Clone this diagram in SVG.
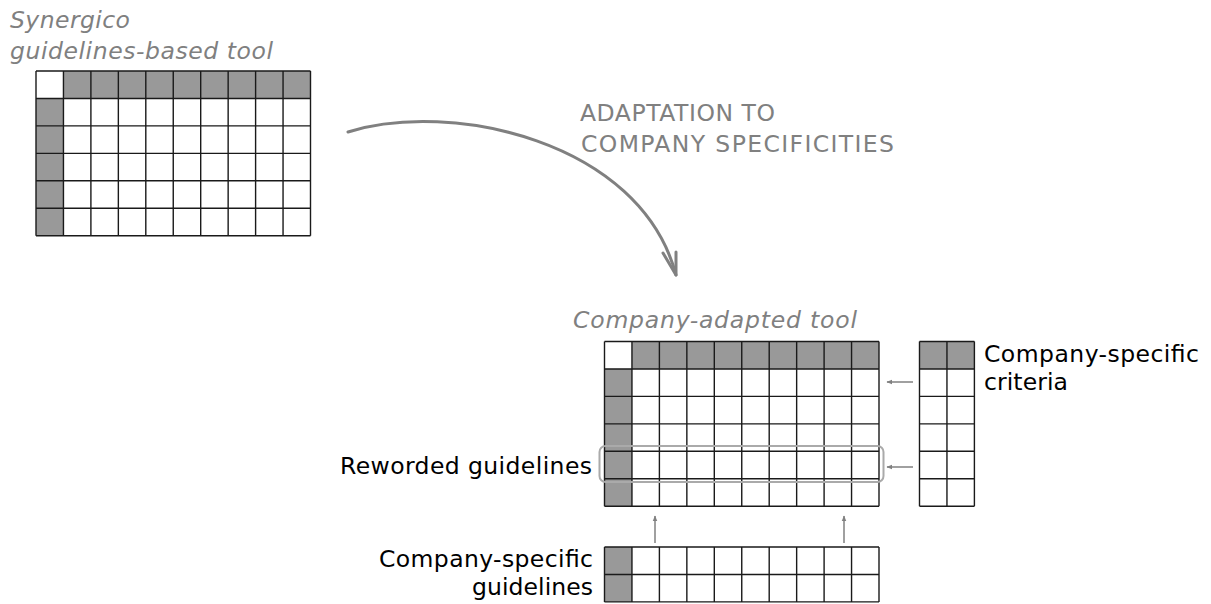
<svg xmlns="http://www.w3.org/2000/svg" width="1211" height="604" viewBox="0 0 1211 604">
<style>
.bg{fill:#fff}
.hd{fill:#999}
.gl{fill:none;stroke:#1a1a1a;stroke-width:1.4}
.ti{font-family:"DejaVu Sans",sans-serif;font-style:italic;font-size:23.5px;fill:#808080}
.tg{font-family:"DejaVu Sans",sans-serif;font-size:23.5px;fill:#808080}
.tb{font-family:"DejaVu Sans",sans-serif;font-size:23.5px;fill:#000}
.sa{stroke:#808080;stroke-width:1.5;fill:none;marker-end:url(#ah)}
</style>
<defs>
<marker id="ah" viewBox="0 0 10 10" refX="9" refY="5" markerWidth="6" markerHeight="6" markerUnits="userSpaceOnUse" orient="auto">
<path d="M0,1 L10,5 L0,9 Z" fill="#808080"/>
</marker>
</defs>
<rect width="1211" height="604" fill="#fff"/>

<g id="synergico-tool">
<text class="ti" x="10" y="27.5" textLength="120" lengthAdjust="spacing">Synergico</text>
<text class="ti" x="10" y="58.5" textLength="263" lengthAdjust="spacing">guidelines-based tool</text>
<rect class="bg" x="36" y="71" width="274.5" height="164.7"/>
<rect class="hd" x="63.45" y="71" width="247.05" height="27.45"/>
<rect class="hd" x="36" y="98.45" width="27.45" height="137.25"/>
<path class="gl" d="M36,71V235.7M63.45,71V235.7M90.9,71V235.7M118.35,71V235.7M145.8,71V235.7M173.25,71V235.7M200.7,71V235.7M228.15,71V235.7M255.6,71V235.7M283.05,71V235.7M310.5,71V235.7M36,71H310.5M36,98.45H310.5M36,125.9H310.5M36,153.35H310.5M36,180.8H310.5M36,208.25H310.5M36,235.7H310.5"/>
</g>

<g id="adaptation-label">
<text class="tg" x="580" y="121" textLength="195" lengthAdjust="spacing">ADAPTATION TO</text>
<text class="tg" x="581" y="152" textLength="313" lengthAdjust="spacing">COMPANY SPECIFICITIES</text>
</g>

<g id="company-adapted-tool">
<text class="ti" x="573" y="328" textLength="284" lengthAdjust="spacing">Company-adapted tool</text>
<rect class="bg" x="604.5" y="341.5" width="274.5" height="164.7"/>
<rect class="hd" x="631.95" y="341.5" width="247.05" height="27.45"/>
<rect class="hd" x="604.5" y="368.95" width="27.45" height="137.25"/>
<path class="gl" d="M604.5,341.5V506.2M631.95,341.5V506.2M659.4,341.5V506.2M686.85,341.5V506.2M714.3,341.5V506.2M741.75,341.5V506.2M769.2,341.5V506.2M796.65,341.5V506.2M824.1,341.5V506.2M851.55,341.5V506.2M879,341.5V506.2M604.5,341.5H879M604.5,368.95H879M604.5,396.4H879M604.5,423.85H879M604.5,451.3H879M604.5,478.75H879M604.5,506.2H879"/>
</g>

<g id="reworded-guidelines">
<rect x="599.5" y="446" width="284" height="36" rx="6" ry="6" fill="none" stroke="#aaa" stroke-width="2"/>
<text class="tb" x="592" y="474" text-anchor="end" textLength="252" lengthAdjust="spacing">Reworded guidelines</text>
</g>

<g id="company-specific-criteria">
<rect class="bg" x="919.5" y="341.5" width="54.9" height="164.7"/>
<rect class="hd" x="919.5" y="341.5" width="54.9" height="27.45"/>
<path class="gl" d="M919.5,341.5V506.2M946.95,341.5V506.2M974.4,341.5V506.2M919.5,341.5H974.4M919.5,368.95H974.4M919.5,396.4H974.4M919.5,423.85H974.4M919.5,451.3H974.4M919.5,478.75H974.4M919.5,506.2H974.4"/>
<text class="tb" x="984" y="362" textLength="215" lengthAdjust="spacing">Company-specific</text>
<text class="tb" x="984" y="390" textLength="84" lengthAdjust="spacing">criteria</text>
</g>

<g id="company-specific-guidelines">
<rect class="bg" x="604.5" y="547" width="274.5" height="54.9"/>
<rect class="hd" x="604.5" y="547" width="27.45" height="54.9"/>
<path class="gl" d="M604.5,547V601.9M631.95,547V601.9M659.4,547V601.9M686.85,547V601.9M714.3,547V601.9M741.75,547V601.9M769.2,547V601.9M796.65,547V601.9M824.1,547V601.9M851.55,547V601.9M879,547V601.9M604.5,547H879M604.5,574.45H879M604.5,601.9H879"/>
<text class="tb" x="593" y="567" text-anchor="end" textLength="214" lengthAdjust="spacing">Company-specific</text>
<text class="tb" x="593" y="595" text-anchor="end" textLength="121" lengthAdjust="spacing">guidelines</text>
</g>

<g id="connectors">
<path d="M348,132 C450,100 640,140 676,275" fill="none" stroke="#808080" stroke-width="3" stroke-linecap="round"/>
<path d="M663,253 L676,275 L676,252" fill="none" stroke="#808080" stroke-width="3" stroke-linecap="round" stroke-linejoin="round"/>
<path class="sa" d="M913,382 H887"/>
<path class="sa" d="M913,467 H887"/>
<path class="sa" d="M655,543 V516"/>
<path class="sa" d="M844,543 V516"/>
</g>
</svg>
